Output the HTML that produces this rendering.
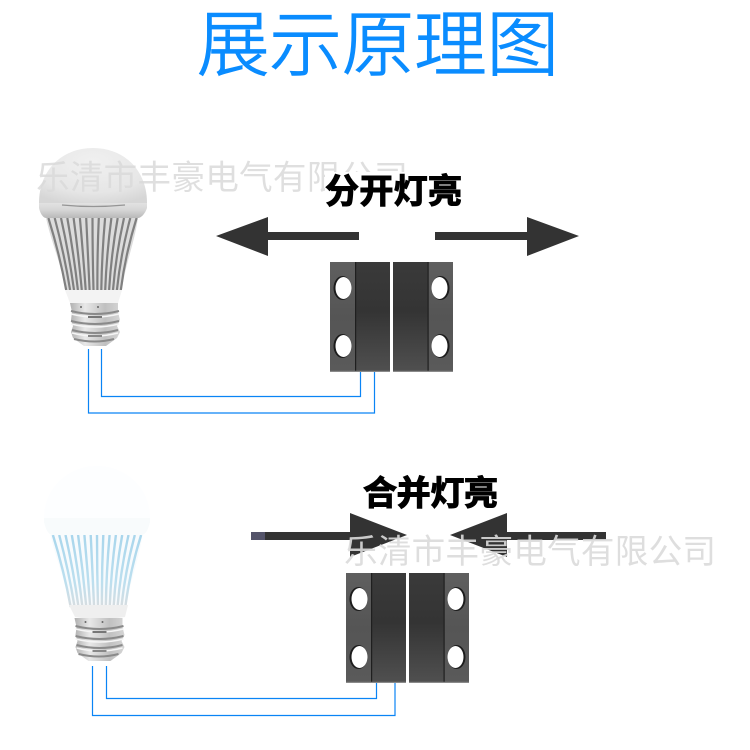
<!DOCTYPE html>
<html><head><meta charset="utf-8"><style>
html,body{margin:0;padding:0;background:#fff;width:750px;height:750px;overflow:hidden}
svg{display:block}
text{font-family:"Liberation Sans","Noto Sans CJK SC",sans-serif}
</style></head><body>
<svg width="750" height="750" viewBox="0 0 750 750" xmlns="http://www.w3.org/2000/svg">
<defs>
<radialGradient id="dome" cx=".5" cy=".25" r=".8"><stop offset="0" stop-color="#f0f0f0"/><stop offset=".7" stop-color="#e6e6e6"/><stop offset="1" stop-color="#d6d6d6"/></radialGradient>
<linearGradient id="rim" x1="0" x2="0" y1="0" y2="1"><stop offset="0" stop-color="#e2e2e2"/><stop offset=".5" stop-color="#d4d4d4"/><stop offset="1" stop-color="#b8b8b8"/></linearGradient>
<linearGradient id="fl" x1="0" x2="0" y1="0" y2="1"><stop offset="0" stop-color="#5f5f5f"/><stop offset=".5" stop-color="#555"/><stop offset="1" stop-color="#5a5a5a"/></linearGradient>
<linearGradient id="bd" x1="0" x2="0" y1="0" y2="1"><stop offset="0" stop-color="#3a3a3a"/><stop offset=".45" stop-color="#343434"/><stop offset="1" stop-color="#505050"/></linearGradient>
<linearGradient id="thread" x1="0" x2="1" y1="0" y2="0"><stop offset="0" stop-color="#b0b0b0"/><stop offset=".3" stop-color="#e8e8e8"/><stop offset=".7" stop-color="#c0c0c0"/><stop offset="1" stop-color="#d5d5d5"/></linearGradient>
<linearGradient id="ribblue" gradientUnits="userSpaceOnUse" x1="0" x2="0" y1="218" y2="290"><stop offset="0" stop-color="#a9d6ec"/><stop offset=".65" stop-color="#bcdfef"/><stop offset="1" stop-color="#d8dde0"/></linearGradient>
<path id="ribs" d="M48.4 218Q59.6 254 66.2 290M54.7 218Q64.3 254 70.1 290M61 218Q69 254 74 290M67.3 218Q73.7 254 77.9 290M73.6 218Q78.4 254 81.8 290M79.9 218Q83.1 254 85.7 290M86.2 218Q87.8 254 89.6 290M92.5 218Q92.5 254 93.5 290M98.8 218Q97.2 254 97.4 290M105.1 218Q101.9 254 101.3 290M111.4 218Q106.6 254 105.2 290M117.7 218Q111.3 254 109.1 290M124 218Q116 254 113 290M130.3 218Q120.7 254 116.9 290M136.6 218Q125.4 254 120.8 290"/>
<g id="screw">
<path d="M70 303H118V312L120 320L117 326L120 332L117 338L106 346H84L73 338L71 332L73 326L71 320L72 312Z" fill="url(#thread)"/>
<path d="M71 311Q95 317 119 311M71 321Q95 327 119 321M72 330Q95 336 118 330M74 339Q95 344 114 339" fill="none" stroke="#8a8a8a" stroke-width="2"/>
<path d="M71 314Q95 320 119 314M71 324Q95 330 119 324M72 333Q95 339 118 333" fill="none" stroke="#f5f5f5" stroke-width="1.5"/>
<circle cx="81" cy="307" r="1" fill="#666"/><circle cx="98" cy="307" r="1" fill="#666"/>
<rect x="88" y="316" width="14" height="2" fill="#777"/><rect x="88" y="335" width="14" height="2" fill="#888"/>
</g>
<g id="ml">
<rect width="60" height="110" fill="url(#fl)"/>
<rect x="25" width="35" height="110" fill="url(#bd)"/>
<rect x="25" width="1.2" height="110" fill="#1f1f1f"/>
<rect y="108.8" width="60" height="1.2" fill="#8a8a8a"/>
<ellipse cx="12.5" cy="26" rx="9" ry="12" fill="#1c1c1c"/>
<ellipse cx="13.5" cy="26" rx="8" ry="11" fill="#fff"/>
<ellipse cx="12.5" cy="84" rx="9" ry="12" fill="#1c1c1c"/>
<ellipse cx="13.5" cy="84" rx="8" ry="11" fill="#fff"/>
</g>
<g id="mr">
<rect width="60" height="110" fill="url(#fl)"/>
<rect width="35" height="110" fill="url(#bd)"/>
<rect x="34.5" width="1.2" height="110" fill="#1f1f1f"/>
<rect y="108.8" width="60" height="1.2" fill="#8a8a8a"/>
<ellipse cx="47.5" cy="26" rx="9" ry="12" fill="#1c1c1c"/>
<ellipse cx="46.5" cy="26" rx="8" ry="11" fill="#fff"/>
<ellipse cx="47.5" cy="84" rx="9" ry="12" fill="#1c1c1c"/>
<ellipse cx="46.5" cy="84" rx="8" ry="11" fill="#fff"/>
</g>
</defs>

<text x="197" y="70" font-size="72" fill="#0a8cff" stroke="#0a8cff" stroke-width="1.2" textLength="362" lengthAdjust="spacingAndGlyphs" style="font-weight:300">展示原理图</text>

<!-- top bulb -->
<path d="M46 218C52 245 62 265 65 290L122 290C125 265 134 245 138 218Z" fill="#dcdcdc"/>
<use href="#ribs" fill="none" stroke="#808080" stroke-width="2.2"/>
<path d="M39 203C39 170 62 148 93 148C124 148 147 170 147 203Z" fill="url(#dome)"/>
<path d="M39 203H147V208C145 214 141 218 138 218H46C43 218 40 213 39 208Z" fill="url(#rim)"/>
<path d="M62 205Q93 208 125 205" fill="none" stroke="#959595" stroke-width="1.3"/>
<path d="M65 290L122 290L118 303Q93 306 70 303Z" fill="#f3f3f3"/>
<use href="#screw"/>

<text x="36" y="189" font-size="33.6" fill="#d9d9d9" fill-opacity=".85" textLength="372">乐清市丰豪电气有限公司</text>
<rect x="325" y="172" width="140" height="38" fill="#fff"/>
<text x="325" y="203" font-size="34" fill="#000" stroke="#000" stroke-width="1.1" textLength="137" style="font-weight:700">分开灯亮</text>

<path d="M216 236L268 217V232H359V240H268V256Z" fill="#333"/>
<path d="M579 236L527 217V232H435V240H527V256Z" fill="#333"/>

<use href="#ml" x="330" y="262"/>
<use href="#mr" x="393" y="262"/>

<path d="M88.5 349V413H374.5V372M101.5 349V396.5H360.5V372" fill="none" stroke="#0a84f5" stroke-width="1.2"/>

<!-- bottom bulb -->
<g transform="translate(4.5 317)">
<path d="M46 218C52 245 62 265 65 290L122 290C125 265 134 245 138 218Z" fill="#f8fbfd"/>
<use href="#ribs" fill="none" stroke="url(#ribblue)" stroke-width="2.4"/>
</g>
<path d="M44 518C44 488 68 466 97 466C126 466 150 488 150 518Z" fill="#fdfeff"/>
<path d="M44 518H150V522C148 530 146 534 142 535H52C48 534 46 530 44 522Z" fill="#f8fbfc"/>
<path d="M69 605H128L125 617Q98 621 75 617Z" fill="#efefef"/>
<use href="#screw" transform="translate(4.5 315)"/>

<path d="M251 532H350V513L407 535L350 557V540H251Z" fill="#333"/>
<rect x="251" y="532" width="14" height="8" fill="#54546a"/>
<path d="M450 535L507 513V532H606V540H507V557Z" fill="#333"/>

<text x="363" y="505" font-size="34" fill="#000" stroke="#000" stroke-width="1.1" textLength="135" style="font-weight:700">合并灯亮</text>

<use href="#ml" x="346" y="573"/>
<use href="#mr" x="409" y="573"/>

<text x="344" y="563" font-size="33.6" fill="#dadada" fill-opacity=".9" textLength="372">乐清市丰豪电气有限公司</text>

<path d="M92.5 666V715.5H395V683M106.5 666V698.5H376.5V683" fill="none" stroke="#0a84f5" stroke-width="1.2"/>
</svg>
</body></html>
